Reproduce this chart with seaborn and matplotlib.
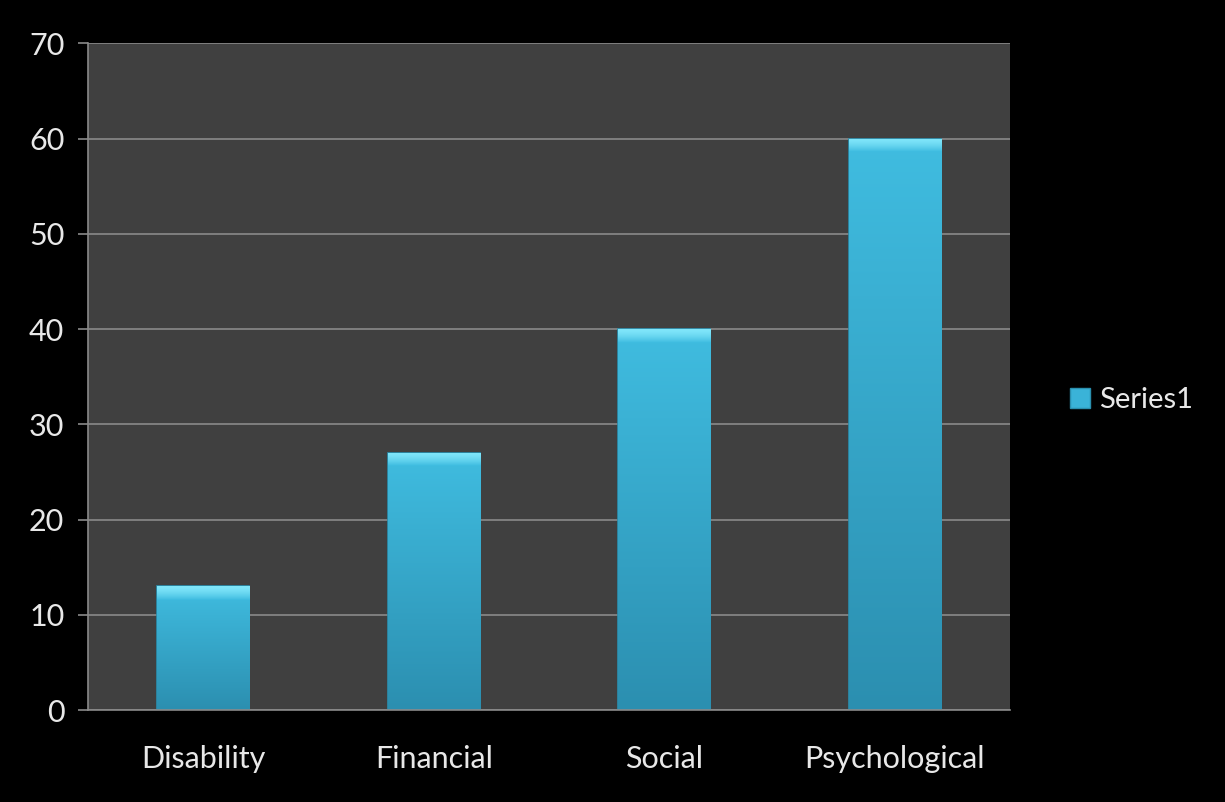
import seaborn as sns
import pandas as pd
import numpy as np
import matplotlib.pyplot as plt
from matplotlib.patches import Patch

categories = ['Disability', 'Financial', 'Social', 'Psychological']
values = [13, 27, 40, 60]
series_name = 'Series1'

d = pd.DataFrame({'category': categories, 'value': values})

sns.set_style('dark')
plt.rcParams['font.family'] = ['Lato', 'DejaVu Sans']

fig = plt.figure(figsize=(12.25, 8.02), dpi=100, facecolor='black')
ax = fig.add_axes([0.0718, 0.1147, 0.7527, 0.8313])
ax.set_facecolor('#404040')

sns.barplot(x='category', y='value', data=d, color='#3ab3d8', width=0.4,
            edgecolor='#2a8fae', linewidth=1.2, saturation=1, ax=ax)

ax.set_ylim(0, 70)
ax.set_xlim(-0.5, len(categories) - 0.5)

# vertical shading on each bar, clipped to the bar itself
top_c = np.array([0.50, 0.90, 0.98])
mid_c = np.array([0.25, 0.74, 0.88])
bot_c = np.array([0.17, 0.56, 0.69])
px_per_unit = 667 / 70
for p in ax.patches:
    x0, w, h = p.get_x(), p.get_width(), p.get_height()
    n = max(int(h * px_per_unit), 2)
    t = np.linspace(0, 1, n)[:, None]
    col = mid_c + (bot_c - mid_c) * t
    k = min(14, n // 3)
    f = np.linspace(0, 1, k)[:, None]
    col[:k] = top_c + (mid_c - top_c) * f ** 1.5
    img = np.repeat(col[:, None, :], 4, axis=1)
    im = ax.imshow(img, extent=[x0, x0 + w, 0, h], origin='upper',
                   aspect='auto', zorder=p.get_zorder() + 0.1)
    im.set_clip_path(p)
ax.set_xlim(-0.5, len(categories) - 0.5)
ax.set_ylim(0, 70)

ax.set_yticks(range(0, 71, 10))
ax.yaxis.grid(True, color='#8a8a8a', linewidth=1.2)
ax.xaxis.grid(False)
ax.set_axisbelow(True)

ax.set_xticks([i - 0.5 for i in range(len(categories) + 1)], minor=True)
ax.tick_params(axis='x', which='major', length=0, pad=25, labelsize=22, colors='#e8e8e8')
ax.tick_params(axis='x', which='minor', length=9, width=1.2, color='#8a8a8a', direction='out')
ax.tick_params(axis='y', length=7, width=1.2, color='#8a8a8a', pad=10,
               labelsize=22, labelcolor='#e8e8e8', direction='out', left=True)
ax.set_xlabel('')
ax.set_ylabel('')

for s in ['top', 'right']:
    ax.spines[s].set_visible(False)
for s in ['left', 'bottom']:
    ax.spines[s].set_visible(True)
    ax.spines[s].set_color('#8a8a8a')
    ax.spines[s].set_linewidth(1.2)

handle = Patch(facecolor='#3ab3d8', edgecolor='#2a8fae', label=series_name)
leg = fig.legend(handles=[handle], loc='center left', bbox_to_anchor=(0.852, 0.501),
                 frameon=False, fontsize=21, handlelength=0.7, handleheight=0.7,
                 handletextpad=0.3)
for t in leg.get_texts():
    t.set_color('#e8e8e8')

plt.savefig('out.png', dpi=100, facecolor='black')
